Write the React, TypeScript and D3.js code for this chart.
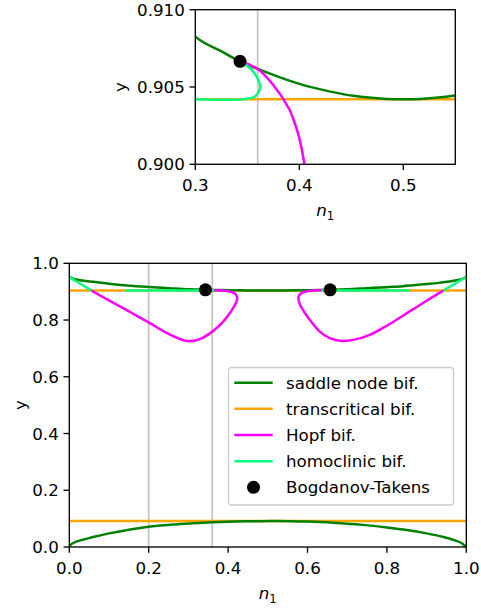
import * as d3 from "d3";

type Pt = [number, number];

const FONT = "'DejaVu Sans', Verdana, sans-serif";
const FS = 16.7;

const GREEN = "#008000";
const ORANGE = "#ffa500";
const MAGENTA = "#ff00ff";
const SPRING = "#00ff7f";

// saddle node bifurcation, upper and lower branch (n1, y)
const saddleUpper: Pt[] = [
  [0, 0.951], [0.01, 0.946], [0.025, 0.941], [0.045, 0.937], [0.07, 0.933],
  [0.1, 0.928], [0.145, 0.922], [0.2, 0.9165], [0.25, 0.9123], [0.3, 0.90825],
  [0.327, 0.90724], [0.343, 0.90666], [0.375, 0.90578], [0.4, 0.9052],
  [0.43, 0.9047], [0.452, 0.90443], [0.484, 0.90423], [0.5, 0.9042],
  [0.516, 0.90423], [0.548, 0.90443], [0.575, 0.90477], [0.6, 0.9052],
  [0.625, 0.90578], [0.657, 0.90666], [0.7, 0.9085], [0.75, 0.9122],
  [0.8, 0.916], [0.84, 0.9192], [0.867, 0.923], [0.9, 0.927], [0.93, 0.931],
  [0.951, 0.935], [0.975, 0.94], [0.99, 0.945], [1.0, 0.951],
];

const saddleLower: Pt[] = [
  [0, 0], [0.005, 0.01], [0.018, 0.019], [0.06, 0.035], [0.1, 0.048],
  [0.15, 0.061], [0.2, 0.0716], [0.26, 0.079], [0.31, 0.0834], [0.36, 0.087],
  [0.42, 0.0898], [0.48, 0.0912], [0.52, 0.0915], [0.56, 0.0912], [0.6, 0.0898],
  [0.65, 0.087], [0.7, 0.082], [0.74, 0.078], [0.8, 0.069], [0.85, 0.06],
  [0.9, 0.048], [0.94, 0.036], [0.97, 0.024], [0.99, 0.012], [1.0, 0],
];

// transcritical bifurcation levels
const transcritical = [0.9042, 0.0915];

// Hopf bifurcation loops
const hopfLeft: Pt[] = [
  [0.343, 0.90666], [0.359, 0.90621], [0.375, 0.90513], [0.3904, 0.90356],
  [0.3942, 0.90293], [0.4, 0.9017], [0.405, 0.9], [0.411, 0.8975],
  [0.417, 0.8935], [0.421, 0.887], [0.423, 0.879], [0.422, 0.869],
  [0.418, 0.855], [0.405, 0.826], [0.38, 0.783], [0.354, 0.753],
  [0.338, 0.739], [0.32, 0.729], [0.305, 0.726], [0.29, 0.728],
  [0.245, 0.755], [0.203, 0.789], [0.161, 0.822], [0.1446, 0.835],
  [0.1, 0.869], [0.056, 0.9035],
];

const hopfRight: Pt[] = [
  [0.657, 0.90666], [0.641, 0.90621], [0.625, 0.90513], [0.6096, 0.90356],
  [0.6058, 0.90293], [0.6, 0.9017], [0.595, 0.9], [0.589, 0.8975],
  [0.583, 0.8935], [0.579, 0.887], [0.577, 0.879], [0.578, 0.869],
  [0.581, 0.855], [0.586, 0.841], [0.606, 0.8], [0.631, 0.759],
  [0.656, 0.736], [0.686, 0.726], [0.715, 0.73], [0.757, 0.748],
  [0.8, 0.78], [0.8625, 0.835], [0.9, 0.868], [0.942, 0.9035],
];

// homoclinic bifurcation
const homoLeft: Pt[] = [
  [0.14, 0.9042], [0.25, 0.9042], [0.3, 0.9042], [0.346, 0.9042],
  [0.357, 0.90437], [0.3615, 0.90475], [0.3625, 0.905], [0.3615, 0.9053],
  [0.357, 0.90589], [0.349, 0.90642], [0.343, 0.90666],
];
const homoRight: Pt[] = [
  [0.657, 0.90666], [0.651, 0.90642], [0.643, 0.90589], [0.6385, 0.9053],
  [0.6375, 0.905], [0.6385, 0.90475], [0.643, 0.90437], [0.654, 0.9042],
  [0.7, 0.9042], [0.858, 0.9042],
];
const homoEdgeLeft: Pt[] = [[0, 0.951], [0.028, 0.928], [0.056, 0.9035]];
const homoEdgeRight: Pt[] = [[0.942, 0.9035], [0.971, 0.928], [1.0, 0.951]];

// Bogdanov-Takens points
const btPoints: Pt[] = [[0.343, 0.90666], [0.657, 0.90666]];

const topGuides = [0.36];
const bottomGuides = [0.2, 0.36];

const topXTicks = [0.3, 0.4, 0.5];
const topYTicks = [0.9, 0.905, 0.91];
const bottomTicks = [0, 0.2, 0.4, 0.6, 0.8, 1.0];

const legendLabels = [
  "saddle node bif.",
  "transcritical bif.",
  "Hopf bif.",
  "homoclinic bif.",
  "Bogdanov-Takens",
];
const legendColors = [GREEN, ORANGE, MAGENTA, SPRING, "#000"];

interface PanelProps {
  id: string;
  left: number;
  right: number;
  top: number;
  bottom: number;
  xDomain: [number, number];
  yDomain: [number, number];
  xTicks: number[];
  yTicks: number[];
  xFmt: (v: number) => string;
  yFmt: (v: number) => string;
  guides: number[];
  yLabelX: number;
}

function Panel(p: PanelProps) {
  const x = d3.scaleLinear().domain(p.xDomain).range([p.left, p.right]);
  const y = d3.scaleLinear().domain(p.yDomain).range([p.bottom, p.top]);
  const smooth = d3
    .line<Pt>()
    .x((d) => x(d[0]))
    .y((d) => y(d[1]))
    .curve(d3.curveCatmullRom.alpha(0.5));
  const straight = d3
    .line<Pt>()
    .x((d) => x(d[0]))
    .y((d) => y(d[1]));
  const lw = 2.5;
  const tickLen = 5.8;

  return (
    <g>
      <defs>
        <clipPath id={p.id}>
          <rect x={p.left} y={p.top} width={p.right - p.left} height={p.bottom - p.top} />
        </clipPath>
      </defs>
      <g clipPath={`url(#${p.id})`}>
        {p.guides.map((g) => (
          <line key={g} x1={x(g)} x2={x(g)} y1={p.top} y2={p.bottom} stroke="#c4c4c4" strokeWidth={1.7} />
        ))}
        {transcritical.map((t) => (
          <line key={t} x1={x(0)} x2={x(1)} y1={y(t)} y2={y(t)} stroke={ORANGE} strokeWidth={lw} />
        ))}
        <path d={smooth(saddleUpper) ?? ""} fill="none" stroke={GREEN} strokeWidth={lw} />
        <path d={smooth(saddleLower) ?? ""} fill="none" stroke={GREEN} strokeWidth={lw} />
        <path d={smooth(hopfLeft) ?? ""} fill="none" stroke={MAGENTA} strokeWidth={lw} />
        <path d={smooth(hopfRight) ?? ""} fill="none" stroke={MAGENTA} strokeWidth={lw} />
        <path d={smooth(homoLeft) ?? ""} fill="none" stroke={SPRING} strokeWidth={lw} />
        <path d={smooth(homoRight) ?? ""} fill="none" stroke={SPRING} strokeWidth={lw} />
        <path d={straight(homoEdgeLeft) ?? ""} fill="none" stroke={SPRING} strokeWidth={lw} />
        <path d={straight(homoEdgeRight) ?? ""} fill="none" stroke={SPRING} strokeWidth={lw} />
        {btPoints.map((b, i) => (
          <circle key={i} cx={x(b[0])} cy={y(b[1])} r={6.5} fill="#000" />
        ))}
      </g>
      <rect
        x={p.left}
        y={p.top}
        width={p.right - p.left}
        height={p.bottom - p.top}
        fill="none"
        stroke="#000"
        strokeWidth={1.33}
      />
      {p.xTicks.map((t) => (
        <g key={t}>
          <line x1={x(t)} x2={x(t)} y1={p.bottom} y2={p.bottom + tickLen} stroke="#000" strokeWidth={1.33} />
          <text x={x(t)} y={p.bottom + 26.5} textAnchor="middle" fontSize={FS}>
            {p.xFmt(t)}
          </text>
        </g>
      ))}
      {p.yTicks.map((t) => (
        <g key={t}>
          <line x1={p.left - tickLen} x2={p.left} y1={y(t)} y2={y(t)} stroke="#000" strokeWidth={1.33} />
          <text x={p.left - 10.5} y={y(t) + 6} textAnchor="end" fontSize={FS}>
            {p.yFmt(t)}
          </text>
        </g>
      ))}
      <text x={(p.left + p.right) / 2} y={p.bottom + 52} textAnchor="middle" fontSize={FS}>
        <tspan fontStyle="italic">n</tspan>
        <tspan fontSize={FS * 0.7} dy={3.5}>1</tspan>
      </text>
      <text
        transform={`translate(${p.yLabelX},${(p.top + p.bottom) / 2}) rotate(-90)`}
        textAnchor="middle"
        fontSize={FS}
      >
        y
      </text>
    </g>
  );
}

function Legend() {
  const x0 = 228.5;
  const y0 = 367.5;
  const w = 225;
  const h = 137.5;
  const rowY = d3.scaleLinear().domain([0, 4]).range([382.7, 487.3]);
  return (
    <g>
      <rect x={x0} y={y0} width={w} height={h} rx={3} fill="#fff" fillOpacity={0.8} stroke="#cccccc" strokeWidth={1.3} />
      {legendLabels.map((lab, i) => (
        <g key={lab}>
          {i < 4 ? (
            <line x1={234.3} x2={272.7} y1={rowY(i)} y2={rowY(i)} stroke={legendColors[i]} strokeWidth={2.5} />
          ) : (
            <circle cx={253.5} cy={rowY(i)} r={6.5} fill="#000" />
          )}
          <text x={286} y={rowY(i) + 6} fontSize={FS}>
            {lab}
          </text>
        </g>
      ))}
    </g>
  );
}

export default function App() {
  const f1 = d3.format(".1f");
  const f3 = d3.format(".3f");
  return (
    <div style={{ position: "absolute", left: 0, top: 0 }}>
      <svg width={481} height={610} style={{ display: "block", background: "#fff" }} fontFamily={FONT}>
        <Panel
          id="clip-top"
          left={195.3}
          right={455.3}
          top={9.7}
          bottom={164.3}
          xDomain={[0.3, 0.55]}
          yDomain={[0.9, 0.91]}
          xTicks={topXTicks}
          yTicks={topYTicks}
          xFmt={f1}
          yFmt={f3}
          guides={topGuides}
          yLabelX={126}
        />
        <Panel
          id="clip-bottom"
          left={69.3}
          right={466.3}
          top={263.3}
          bottom={547}
          xDomain={[0, 1]}
          yDomain={[0, 1]}
          xTicks={bottomTicks}
          yTicks={bottomTicks}
          xFmt={f1}
          yFmt={f1}
          guides={bottomGuides}
          yLabelX={26}
        />
        <Legend />
      </svg>
    </div>
  );
}
